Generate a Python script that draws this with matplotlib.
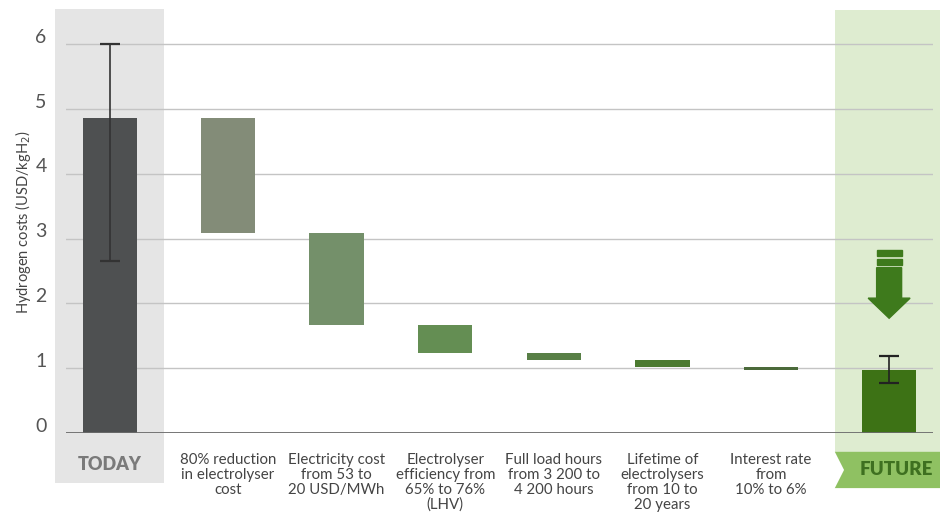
import numpy as np
import matplotlib.pyplot as plt
from matplotlib.patches import Rectangle, Polygon
from matplotlib.transforms import ScaledTranslation

plt.rcParams['font.family'] = ['Lato', 'DejaVu Sans']

# hydrogen cost today and in the future (USD/kgH2), with ranges
today_cost = 4.86
today_range = [2.66, 6.0]
future_cost = 0.97
future_range = [0.77, 1.19]

# cost reduction from each driver
driver_labels = [
    "80% reduction\nin electrolyser\ncost",
    "Electricity cost\nfrom 53 to\n20 USD/MWh",
    "Electrolyser\nefficiency from\n65% to 76%\n(LHV)",
    "Full load hours\nfrom 3 200 to\n4 200 hours",
    "Lifetime of\nelectrolysers\nfrom 10 to\n20 years",
    "Interest rate\nfrom\n10% to 6%",
]
driver_savings = [1.78, 1.41, 0.43, 0.11, 0.11, 0.05]
driver_colors = ["#838c78", "#74906a", "#648e53", "#587f46", "#4b7a30", "#4b6a3a"]

# waterfall tops and bottoms
cum = np.cumsum(driver_savings)
tops = today_cost - np.concatenate([[0], cum[:-1]])
bottoms = today_cost - cum

# x positions: the two end panels sit a little further out
gap = 0.087
x_today = 0.0
x_drivers = 1 + gap + np.arange(len(driver_savings))
x_future = x_drivers[-1] + 1 + gap
width = 0.5

fig = plt.figure(figsize=(9.4, 5.24), dpi=100)
ax = fig.add_axes([66 / 940, 91 / 524, 867 / 940, 424 / 524])
ax.set_xlim(-0.405, 7.578)
ax.set_ylim(0, 6.54)

# panel backgrounds
ax.add_patch(Rectangle((x_today - 0.506, -0.77), 1.003, 7.31, facecolor="#e5e5e5",
                       edgecolor="none", zorder=0.1, clip_on=False))
ax.add_patch(Rectangle((x_future - 0.5, -0.30), 1.2, 6.83, facecolor="#deecd0",
                       edgecolor="none", zorder=0.1, clip_on=False))
ribbon = Polygon([(x_future - 0.5, -0.29), (x_future + 0.7, -0.29), (x_future + 0.7, -0.85),
                  (x_future - 0.5, -0.85), (x_future - 0.415, -0.57)],
                 closed=True, facecolor="#8fc162", edgecolor="none", zorder=0.1, clip_on=False)
ax.add_patch(ribbon)

# grid and baseline
ax.set_yticks(range(7))
ax.yaxis.grid(True, color="#c4c4c4", lw=1)
ax.set_axisbelow(True)
ax.axhline(0, color="#6b6b6b", lw=2, zorder=3)
for s in ax.spines.values():
    s.set_visible(False)
ax.tick_params(length=0, labelsize=14, labelcolor="#555555", pad=14)
ax.set_xticks([])
for lab in ax.get_yticklabels():
    lab.set_transform(lab.get_transform() + ScaledTranslation(0, 6 / 72, fig.dpi_scale_trans))

# bars
ax.bar(x_today, today_cost, width=width, color="#4e5051", zorder=2)
ax.errorbar(x_today, today_cost,
            yerr=[[today_cost - today_range[0]], [today_range[1] - today_cost]],
            fmt="none", ecolor="#333333", elinewidth=1.2, capsize=7, capthick=1.6, zorder=4)
ax.bar(x_drivers, tops - bottoms, bottom=bottoms, width=width, color=driver_colors, zorder=2)
ax.bar(x_future, future_cost, width=width, color="#3d7215", zorder=2)
ax.errorbar(x_future, future_cost,
            yerr=[[future_cost - future_range[0]], [future_range[1] - future_cost]],
            fmt="none", ecolor="#222222", elinewidth=1.2, capsize=7, capthick=1.6, zorder=4)

# downward arrow above the future bar
arrow_col = "#3e7a1c"
sw = 0.115
ax.add_patch(Rectangle((x_future - sw, 2.73), 2 * sw, 0.09, color=arrow_col, zorder=2))
ax.add_patch(Rectangle((x_future - sw, 2.59), 2 * sw, 0.10, color=arrow_col, zorder=2))
ax.add_patch(Polygon([(x_future - sw, 2.55), (x_future + sw, 2.55), (x_future + sw, 2.08),
                      (x_future + 0.193, 2.08), (x_future, 1.77), (x_future - 0.193, 2.08),
                      (x_future - sw, 2.08)], closed=True, color=arrow_col, zorder=2))

# category labels
for x, lab in zip(x_drivers, driver_labels):
    ax.text(x, -0.31, lab, ha="center", va="top", fontsize=10.8, color="#444444",
            linespacing=1.08, clip_on=False)
ax.text(x_today, -0.49, "TODAY", ha="center", va="center", fontsize=13, fontweight="heavy",
        color="#7a7a7a", clip_on=False)
ax.text(x_future + 0.065, -0.57, "FUTURE", ha="center", va="center", fontsize=13.5,
        fontweight="heavy", color="#3e7020", clip_on=False)

fig.text(23 / 940, 1 - 222 / 524, "Hydrogen costs (USD/kgH$_2$)", rotation=90,
         ha="center", va="center", fontsize=10.5, color="#444444")

fig.savefig("out.png", dpi=100)
